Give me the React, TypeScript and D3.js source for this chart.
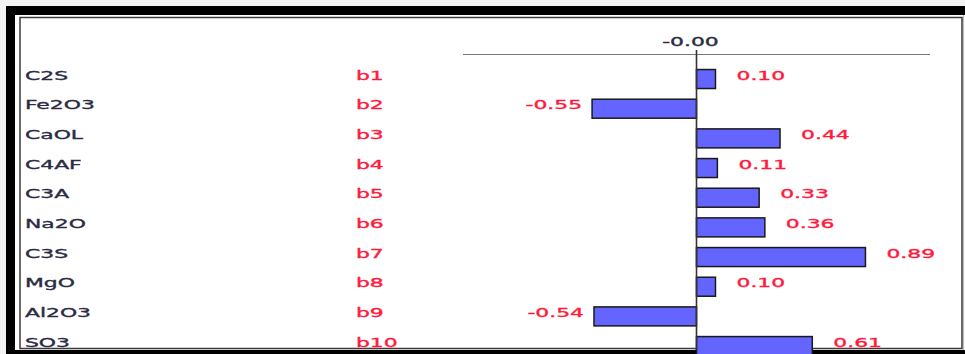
import React from "react";
import * as d3 from "d3";

// Effect coefficients per oxide / clinker phase
const factors = ["C2S", "Fe2O3", "CaOL", "C4AF", "C3A", "Na2O", "C3S", "MgO", "Al2O3", "SO3"];
const coefNames = ["b1", "b2", "b3", "b4", "b5", "b6", "b7", "b8", "b9", "b10"];
const coefValues = [0.1, -0.55, 0.44, 0.11, 0.33, 0.36, 0.89, 0.1, -0.54, 0.61];
const axisTicks = [0];

const W = 965;
const H = 354;
const SX = 1.75; // horizontal stretch of the glyphs
const FONT = "'DejaVu Sans', Verdana, sans-serif";

// plain ASCII hyphen for negative numbers
const locale = d3.formatLocale({
  decimal: ".",
  thousands: ",",
  grouping: [3],
  currency: ["", ""],
  minus: "-",
});
const fmt = locale.format(".2f");

export default function App() {
  const x = d3.scaleLinear().domain([-1.23, 1.23]).range([463, 930]);
  const y = d3
    .scaleBand<string>()
    .domain(coefNames)
    .range([64.2, 360.9])
    .paddingInner(0.36)
    .paddingOuter(0.18);
  const x0 = x(0);
  const axisY = 54.5;

  const stretched = (
    key: string,
    tx: number,
    ty: number,
    text: string,
    fill: string,
    anchor: "start" | "middle" | "end" = "start"
  ) => (
    <text
      key={key}
      transform={`translate(${tx},${ty}) scale(${SX},1)`}
      fontFamily={FONT}
      fontSize={12.5}
      fill={fill}
      stroke={fill}
      strokeWidth={0.35}
      textAnchor={anchor}
    >
      {text}
    </text>
  );

  return (
    <div style={{ position: "fixed", left: 0, top: 0 }}>
      <svg width={W} height={H} style={{ display: "block" }}>
        <rect x={0} y={0} width={W} height={H} fill="#f4f4f4" />
        {/* heavy outer frame */}
        <rect x={6} y={6} width={W - 6} height={H - 6} fill="#000" />
        <rect x={15} y={15} width={W - 15} height={335} fill="#fff" />
        {/* inner panel border */}
        <rect x={20} y={17.5} width={942} height={331} fill="#fff" stroke="#3a3a3a" strokeWidth={1.5} />
        <line x1={963.5} x2={963.5} y1={15} y2={350} stroke="#bbb" strokeWidth={1} />

        {/* value axis */}
        <line x1={x(-1.23)} x2={x(1.23)} y1={axisY} y2={axisY} stroke="#777" strokeWidth={1} />
        {axisTicks.map((t) =>
          stretched(`tick-${t}`, x(t) - 6, 46, "-" + fmt(Math.abs(t)), "#2b2b44", "middle")
        )}

        {/* bars */}
        {coefValues.map((v, i) => {
          const name = coefNames[i];
          const by = y(name)!;
          const bx = Math.min(x(v), x0);
          const bw = Math.abs(x(v) - x0);
          return (
            <rect
              key={`bar-${name}`}
              x={bx}
              y={by}
              width={bw}
              height={y.bandwidth()}
              fill="#6464ff"
              stroke="#1a1a1a"
              strokeWidth={1.5}
            />
          );
        })}

        {/* zero line */}
        <line x1={x0} x2={x0} y1={50} y2={350} stroke="#333" strokeWidth={1.6} />

        {/* row labels and value labels */}
        {coefValues.map((v, i) => {
          const name = coefNames[i];
          const cy = y(name)! + y.bandwidth() / 2;
          const base = cy + 0.5;
          return (
            <g key={`lab-${name}`}>
              {stretched(`f-${name}`, 25, base, factors[i], "#2b2b44")}
              {stretched(`n-${name}`, 356, base, name, "#ff1a3c")}
              {v >= 0
                ? stretched(`v-${name}`, x(v) + 21, base, fmt(v), "#ff1a3c", "start")
                : stretched(`v-${name}`, x(v) - 10, base, fmt(v), "#ff1a3c", "end")}
            </g>
          );
        })}
      </svg>
    </div>
  );
}
